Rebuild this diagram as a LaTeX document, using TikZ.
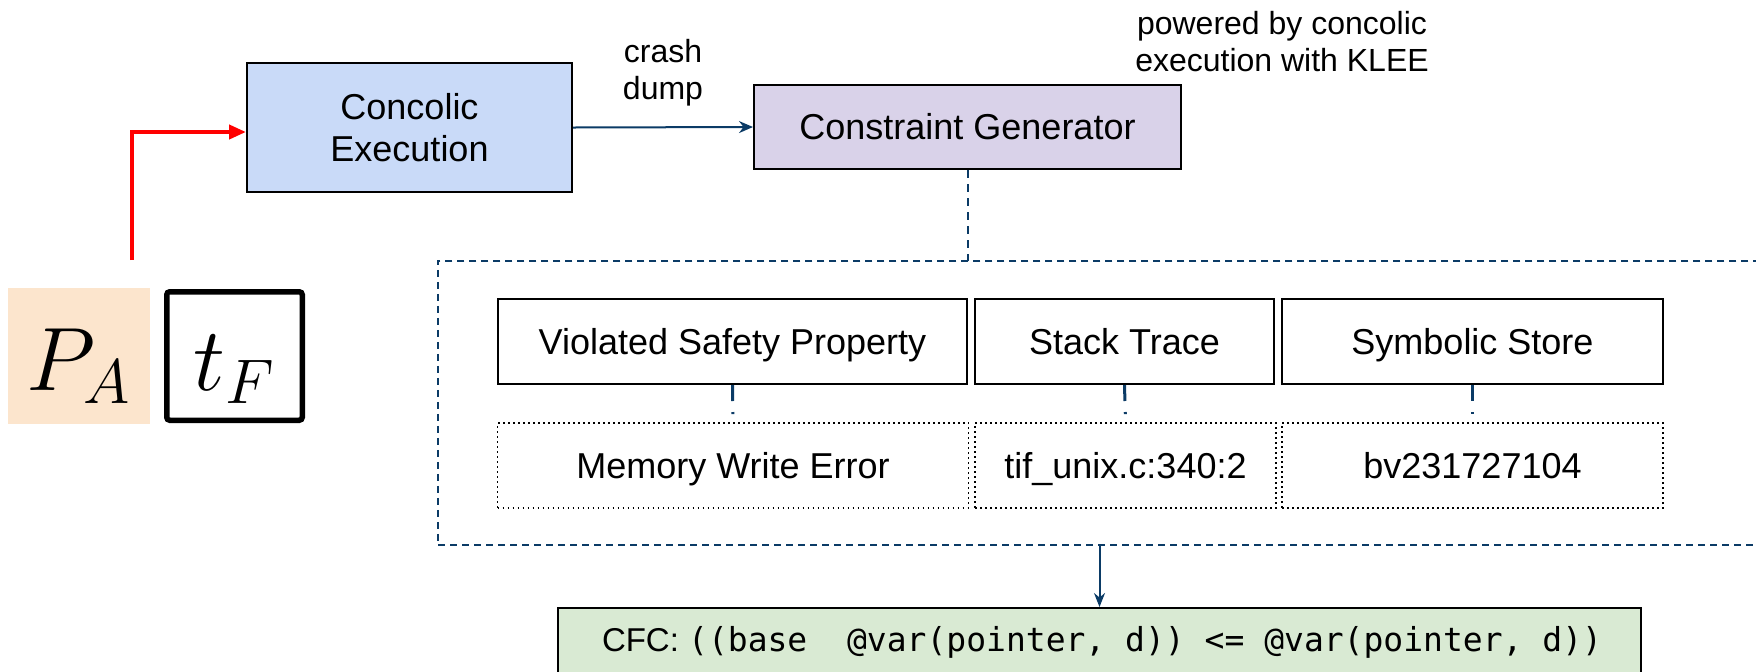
\documentclass[tikz,border=0pt]{standalone}
\usepackage{fix-cm}
\usepackage{fontspec}
\setmainfont{Liberation Sans}
\newfontfamily\codefont{DejaVu Sans Mono}
\usetikzlibrary{arrows.meta}

\definecolor{wirecol}{HTML}{0B3B66}
\definecolor{execblue}{HTML}{C9DAF8}
\definecolor{genpurple}{HTML}{D9D2E9}
\definecolor{cfcgreen}{HTML}{D9EAD3}
\definecolor{progorange}{HTML}{FCE5CD}

\tikzset{
  boxfont/.style={font=\fontsize{18}{21}\selectfont},
  stagebox/.style={draw=black, line width=1pt, inner sep=0pt, align=center, boxfont},
  fieldbox/.style={draw=black, line width=1pt, inner sep=0pt, minimum height=42.5pt,
    boxfont, text height=12.9pt, text depth=0pt},
  valuebox/.style={draw=black, line width=0.9pt, dash pattern=on 0.9pt off 1.6pt,
    inner sep=0pt, minimum height=42.5pt, boxfont, text height=12.9pt, text depth=0pt},
  note/.style={font=\fontsize{16}{18.5}\selectfont, align=center, inner sep=0pt},
  wire/.style={draw=wirecol, line width=1pt},
  wirearrow/.style={wire, -{Stealth[length=7pt,width=6pt]}},
  stub/.style={draw=wirecol, line width=1.5pt, dash pattern=on 8pt off 5.5pt, shorten >=4pt},
  inputarrow/.style={draw=red, line width=2pt, -{Triangle[length=8.5pt,width=7pt]}},
  symbol/.style={inner sep=0pt, font=\fontsize{45}{50}\selectfont, text height=34pt, text depth=0pt},
}

\begin{document}
\begin{tikzpicture}[x=0.5pt,y=-0.5pt]
\useasboundingbox (0,0) rectangle (1756,671);
\clip (0,0) rectangle (1756,671);

% inputs: program and failing test
\node[symbol, fill=progorange, minimum width=71pt, minimum height=68pt] (pa) at (79,356) {$P_A$};
\node[symbol, draw=black, line width=2.75pt, rounded corners=1.5pt, fill=white,
      minimum width=67.75pt, minimum height=64.25pt] (tf) at (234.5,356) {$t_F$};

% pipeline stages
\node[stagebox, fill=execblue, minimum width=162.5pt, minimum height=64.5pt] (conc) at (409.5,127.5)
  {Concolic\\Execution};
\node[stagebox, fill=genpurple, minimum width=213.5pt, minimum height=42pt,
      text height=12.9pt, text depth=0pt] (gen) at (967.5,127) {Constraint Generator};

\node[note] (crashlbl) at (663,73) {crash\\dump};
\node[note] (kleelbl) at (1282,42) {powered by concolic\\execution with KLEE};

% crash information group
\node[inner sep=0pt, minimum width=661pt, minimum height=142pt] (grp) at (1099,403) {};
\draw[wire, dash pattern=on 3.5pt off 2.5pt]
  (grp.north east) -- (grp.north west) -- (grp.south west) -- (grp.south east);

\node[fieldbox, minimum width=234.5pt] (vsp) at (732.5,341.5) {Violated Safety Property};
\node[fieldbox, minimum width=149.5pt] (stk) at (1124.5,341.5) {Stack Trace};
\node[fieldbox, minimum width=190.5pt] (sym) at (1472.5,341.5) {Symbolic Store};

\node[valuebox, minimum width=235.5pt] (mwe) at (733,465.5) {Memory Write Error};
\node[valuebox, minimum width=150.5pt] (loc) at (1125.5,465.5) {tif\_unix.c:340:2};
\node[valuebox, minimum width=190.5pt] (val) at (1472.5,465.5) {bv231727104};

% resulting crash-free constraint
\node[draw=black, line width=1pt, fill=cfcgreen, inner sep=0pt, minimum width=541.5pt,
      minimum height=34pt, text height=11.8pt, text depth=2.8pt,
      font=\fontsize{16.5}{20}\selectfont] (cfc) at (1099.5,642)
  {\makebox[541.5pt][l]{\hspace*{22pt}CFC: {\codefont\fontsize{16.5}{20}\selectfont ((base\ \ @var(pointer, d)) <= @var(pointer, d))}}};

% connectors
\coordinate (srctop) at (132,260);
\draw[inputarrow] (srctop) |- ([yshift=-2.25pt]conc.west);
\draw[wirearrow] (conc.east) -- (gen.west);
\draw[wire, dash pattern=on 4pt off 3pt] (gen.south) -- (gen.south |- grp.north);
\foreach \a/\b in {vsp/mwe, stk/loc, sym/val}
  \draw[stub] (\a.south) -- (\b.north);
\draw[wire, -{Stealth[length=7pt,width=5.5pt]}] (grp.south -| cfc.north) -- (cfc.north);
\end{tikzpicture}
\end{document}
